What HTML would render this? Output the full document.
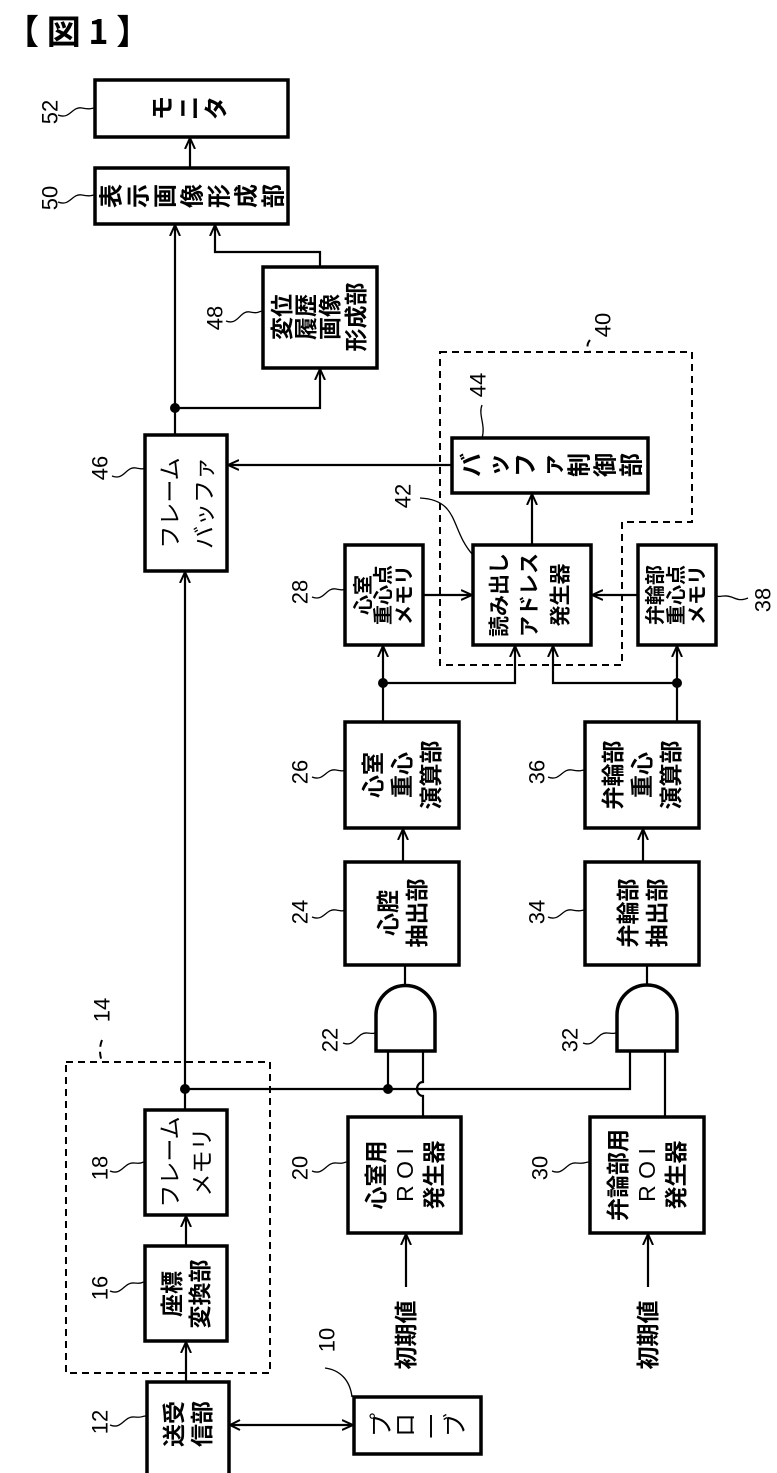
<!DOCTYPE html>
<html><head><meta charset="utf-8"><style>
html,body{margin:0;padding:0;background:#fff;}
svg{display:block;}
text{font-family:"Liberation Sans","Noto Sans CJK JP",sans-serif;fill:#000;}
.b{font-family:"Noto Sans CJK JP",sans-serif;font-weight:bold;}
.n{font-size:22px;}
</style></head><body>
<svg width="777" height="1473" viewBox="0 0 777 1473" xmlns="http://www.w3.org/2000/svg">
<defs>
<marker id="a" viewBox="0 0 12 12" refX="11" refY="6" markerWidth="12" markerHeight="12" markerUnits="userSpaceOnUse" orient="auto">
<path d="M0,1 L11,6 L0,11" fill="none" stroke="#000" stroke-width="2"/>
</marker>
<marker id="as" viewBox="0 0 12 12" refX="1" refY="6" markerWidth="12" markerHeight="12" markerUnits="userSpaceOnUse" orient="auto">
<path d="M11,1 L1,6 L11,11" fill="none" stroke="#000" stroke-width="2"/>
</marker>
</defs>

<text x="5" y="44" style="font-family:'Noto Sans CJK JP',sans-serif;font-size:34px;font-weight:bold">【 図 1 】</text>

<g fill="none" stroke="#000" stroke-width="3.5">
<rect x="95" y="80" width="193" height="57"/>
<rect x="95" y="168" width="193" height="56"/>
<rect x="263" y="267" width="114" height="101"/>
<rect x="145" y="435" width="82" height="136"/>
<rect x="452" y="438" width="196" height="55"/>
<rect x="473" y="545" width="118" height="100"/>
<rect x="345" y="545" width="78" height="100"/>
<rect x="638" y="545" width="78" height="100"/>
<rect x="345" y="722" width="114" height="106"/>
<rect x="585" y="722" width="114" height="106"/>
<rect x="345" y="862" width="114" height="103"/>
<rect x="585" y="862" width="114" height="103"/>
<rect x="348" y="1117" width="113" height="116"/>
<rect x="590" y="1117" width="114" height="116"/>
<rect x="145" y="1110" width="82" height="105"/>
<rect x="145" y="1246" width="82" height="95"/>
<rect x="147" y="1382" width="82" height="100"/>
<rect x="354" y="1397" width="127" height="57"/>
<path d="M376,1051 V1015 A29.5,29.5 0 0 1 435,1015 V1051 Z"/>
<path d="M617,1051 V1015 A29.5,29.5 0 0 1 677,1015 V1051 Z"/>
</g>

<g fill="none" stroke="#000" stroke-width="2" stroke-dasharray="7,5">
<path d="M440,352 H692 V522 H622 V665 H440 Z"/>
<rect x="66" y="1062" width="204" height="311"/>
<path d="M102,1040 Q98,1050 102,1062"/>
<path d="M590,340 Q585,346 590,352"/>
</g>

<g fill="none" stroke="#000" stroke-width="2.2">
<line x1="190" y1="168" x2="190" y2="138" marker-end="url(#a)"/>
<line x1="175" y1="435" x2="175" y2="225" marker-end="url(#a)"/>
<polyline points="175,408 320,408 320,369" marker-end="url(#a)"/>
<polyline points="320,267 320,252 215,252 215,225" marker-end="url(#a)"/>
<line x1="452" y1="465" x2="228" y2="465" marker-end="url(#a)"/>
<line x1="532" y1="545" x2="532" y2="494" marker-end="url(#a)"/>
<line x1="423" y1="595" x2="472" y2="595" marker-end="url(#a)"/>
<line x1="638" y1="595" x2="592" y2="595" marker-end="url(#a)"/>
<line x1="383" y1="722" x2="383" y2="646" marker-end="url(#a)"/>
<polyline points="383,683 515,683 515,646" marker-end="url(#a)"/>
<line x1="677" y1="722" x2="677" y2="646" marker-end="url(#a)"/>
<polyline points="677,683 553,683 553,646" marker-end="url(#a)"/>
<line x1="403" y1="862" x2="403" y2="829" marker-end="url(#a)"/>
<line x1="643" y1="862" x2="643" y2="829" marker-end="url(#a)"/>
<line x1="405" y1="985" x2="405" y2="965"/>
<line x1="647" y1="985" x2="647" y2="965"/>
<line x1="185" y1="1110" x2="185" y2="572" marker-end="url(#a)"/>
<polyline points="185,1089 630,1089 630,1051"/>
<line x1="388" y1="1089" x2="388" y2="1051"/>
<path d="M423,1117 V1096 A6,7 0 0 1 423,1082 V1051"/>
<line x1="665" y1="1117" x2="665" y2="1051"/>
<line x1="186" y1="1246" x2="186" y2="1216" marker-end="url(#a)"/>
<line x1="186" y1="1382" x2="186" y2="1342" marker-end="url(#a)"/>
<line x1="230" y1="1425" x2="353" y2="1425" marker-start="url(#as)" marker-end="url(#a)"/>
<line x1="406" y1="1287" x2="406" y2="1234" marker-end="url(#a)"/>
<line x1="648" y1="1287" x2="648" y2="1234" marker-end="url(#a)"/>
</g>
<g fill="#000">
<circle cx="175" cy="408" r="5"/>
<circle cx="383" cy="683" r="5"/>
<circle cx="677" cy="683" r="5"/>
<circle cx="185" cy="1089" r="5"/>
<circle cx="388" cy="1089" r="5"/>
</g>

<g fill="none" stroke="#000" stroke-width="1.3">
<path d="M58,115 C70,120 72,106 82,108 S90,108 95,108"/>
<path d="M58,202 C70,207 72,193 82,195 S90,195 95,195"/>
<path d="M226,321 C238,326 240,310 250,312 S258,311 263,311"/>
<path d="M112,476 C124,481 126,466 136,468 S142,468 145,468"/>
<path d="M482,405 C478,415 486,425 482,438"/>
<path d="M420,498 C460,500 450,530 473,555"/>
<path d="M312,597 C324,602 326,587 336,589 S342,589 345,589"/>
<path d="M748,598 C736,603 734,595 724,596 S720,596 716,596"/>
<path d="M312,777 C324,782 326,768 336,770 S342,770 345,770"/>
<path d="M548,777 C560,782 562,768 572,770 S580,770 585,770"/>
<path d="M312,917 C324,922 326,908 336,910 S342,910 345,910"/>
<path d="M548,917 C560,922 562,908 572,910 S580,910 585,910"/>
<path d="M343,1043 C355,1048 357,1032 367,1033 S372,1033 376,1033"/>
<path d="M583,1043 C595,1048 597,1032 607,1033 S612,1033 617,1033"/>
<path d="M110,1171 C122,1176 124,1162 134,1163 S140,1162 145,1162"/>
<path d="M312,1171 C324,1176 326,1162 336,1163 S342,1162 348,1162"/>
<path d="M552,1171 C564,1176 566,1162 576,1163 S584,1162 590,1162"/>
<path d="M110,1291 C122,1296 124,1282 134,1283 S140,1282 145,1282"/>
<path d="M110,1425 C122,1430 124,1416 134,1417 S140,1416 147,1416"/>
<path d="M325,1368 C340,1370 350,1380 352,1397"/>
</g>

<g class="n">
<text transform="translate(50,112) rotate(-90)" text-anchor="middle" dominant-baseline="central">52</text>
<text transform="translate(50,198) rotate(-90)" text-anchor="middle" dominant-baseline="central">50</text>
<text transform="translate(215,318) rotate(-90)" text-anchor="middle" dominant-baseline="central">48</text>
<text transform="translate(100,468) rotate(-90)" text-anchor="middle" dominant-baseline="central">46</text>
<text transform="translate(478,385) rotate(-90)" text-anchor="middle" dominant-baseline="central">44</text>
<text transform="translate(403,496) rotate(-90)" text-anchor="middle" dominant-baseline="central">42</text>
<text transform="translate(603,325) rotate(-90)" text-anchor="middle" dominant-baseline="central">40</text>
<text transform="translate(300,592) rotate(-90)" text-anchor="middle" dominant-baseline="central">28</text>
<text transform="translate(763,600) rotate(-90)" text-anchor="middle" dominant-baseline="central">38</text>
<text transform="translate(300,772) rotate(-90)" text-anchor="middle" dominant-baseline="central">26</text>
<text transform="translate(537,772) rotate(-90)" text-anchor="middle" dominant-baseline="central">36</text>
<text transform="translate(300,912) rotate(-90)" text-anchor="middle" dominant-baseline="central">24</text>
<text transform="translate(537,912) rotate(-90)" text-anchor="middle" dominant-baseline="central">34</text>
<text transform="translate(330,1040) rotate(-90)" text-anchor="middle" dominant-baseline="central">22</text>
<text transform="translate(570,1040) rotate(-90)" text-anchor="middle" dominant-baseline="central">32</text>
<text transform="translate(102,1010) rotate(-90)" text-anchor="middle" dominant-baseline="central">14</text>
<text transform="translate(100,1168) rotate(-90)" text-anchor="middle" dominant-baseline="central">18</text>
<text transform="translate(300,1168) rotate(-90)" text-anchor="middle" dominant-baseline="central">20</text>
<text transform="translate(540,1168) rotate(-90)" text-anchor="middle" dominant-baseline="central">30</text>
<text transform="translate(100,1288) rotate(-90)" text-anchor="middle" dominant-baseline="central">16</text>
<text transform="translate(100,1422) rotate(-90)" text-anchor="middle" dominant-baseline="central">12</text>
<text transform="translate(327,1340) rotate(-90)" text-anchor="middle" dominant-baseline="central">10</text>
</g>

<g class="b" font-size="24" text-anchor="middle" dominant-baseline="central">
<text transform="translate(163,108) rotate(-90)">モ</text>
<text transform="translate(190,108) rotate(-90)">ニ</text>
<text transform="translate(217,108) rotate(-90)">タ</text>
<text transform="translate(112,196) rotate(-90)">表</text>
<text transform="translate(139,196) rotate(-90)">示</text>
<text transform="translate(166,196) rotate(-90)">画</text>
<text transform="translate(193,196) rotate(-90)">像</text>
<text transform="translate(220,196) rotate(-90)">形</text>
<text transform="translate(247,196) rotate(-90)">成</text>
<text transform="translate(274,196) rotate(-90)">部</text>
<text transform="translate(472,465) rotate(-90)">バ</text>
<text transform="translate(499,465) rotate(-90)">ッ</text>
<text transform="translate(526,465) rotate(-90)">フ</text>
<text transform="translate(553,465) rotate(-90)">ァ</text>
<text transform="translate(580,465) rotate(-90)">制</text>
<text transform="translate(606,465) rotate(-90)">御</text>
<text transform="translate(632,465) rotate(-90)">部</text>
</g>
<g font-size="24" text-anchor="middle" dominant-baseline="central" style="font-family:'Noto Sans CJK JP',sans-serif">
<text transform="translate(382,1425) rotate(-90)">プ</text>
<text transform="translate(406,1425) rotate(-90)">ロ</text>
<text transform="translate(431,1425)">|</text>
<text transform="translate(456,1425) rotate(-90)">ブ</text>
</g>

<g class="b" text-anchor="middle" dominant-baseline="central" font-size="23">
<text transform="translate(282,317) rotate(-90)">変位</text>
<text transform="translate(306,317) rotate(-90)">履歴</text>
<text transform="translate(330,317) rotate(-90)">画像</text>
<text transform="translate(356,317) rotate(-90)">形成部</text>
<text transform="translate(170,503) rotate(-90)" font-weight="normal">フレーム</text>
<text transform="translate(204,503) rotate(-90)" font-weight="normal">バッファ</text>
<text transform="translate(500,595) rotate(-90)" font-size="21">読み出し</text>
<text transform="translate(530,595) rotate(-90)" font-size="21">アドレス</text>
<text transform="translate(561,595) rotate(-90)" font-size="21">発生器</text>
<text transform="translate(364,595) rotate(-90)" font-size="20">心室</text>
<text transform="translate(384,595) rotate(-90)" font-size="20">重心点</text>
<text transform="translate(405,595) rotate(-90)" font-size="20">メモリ</text>
<text transform="translate(656,595) rotate(-90)" font-size="20">弁輪部</text>
<text transform="translate(677,595) rotate(-90)" font-size="20">重心点</text>
<text transform="translate(698,595) rotate(-90)" font-size="20">メモリ</text>
<text transform="translate(373,775) rotate(-90)">心室</text>
<text transform="translate(402,775) rotate(-90)">重心</text>
<text transform="translate(431,775) rotate(-90)">演算部</text>
<text transform="translate(613,775) rotate(-90)">弁輪部</text>
<text transform="translate(642,775) rotate(-90)">重心</text>
<text transform="translate(671,775) rotate(-90)">演算部</text>
<text transform="translate(388,913) rotate(-90)">心腔</text>
<text transform="translate(417,913) rotate(-90)">抽出部</text>
<text transform="translate(628,913) rotate(-90)">弁輪部</text>
<text transform="translate(657,913) rotate(-90)">抽出部</text>
<text transform="translate(376,1175) rotate(-90)">心室用</text>
<text transform="translate(405,1175) rotate(-90)" font-weight="normal">R O I</text>
<text transform="translate(434,1175) rotate(-90)">発生器</text>
<text transform="translate(618,1175) rotate(-90)">弁論部用</text>
<text transform="translate(647,1175) rotate(-90)" font-weight="normal">R O I</text>
<text transform="translate(676,1175) rotate(-90)">発生器</text>
<text transform="translate(170,1162) rotate(-90)" font-weight="normal">フレーム</text>
<text transform="translate(202,1162) rotate(-90)" font-weight="normal">メモリ</text>
<text transform="translate(172,1294) rotate(-90)">座標</text>
<text transform="translate(200,1294) rotate(-90)">変換部</text>
<text transform="translate(174,1424) rotate(-90)">送受</text>
<text transform="translate(202,1424) rotate(-90)">信部</text>
<text transform="translate(406,1335) rotate(-90)">初期値</text>
<text transform="translate(648,1335) rotate(-90)">初期値</text>
</g>
</svg>
</body></html>
